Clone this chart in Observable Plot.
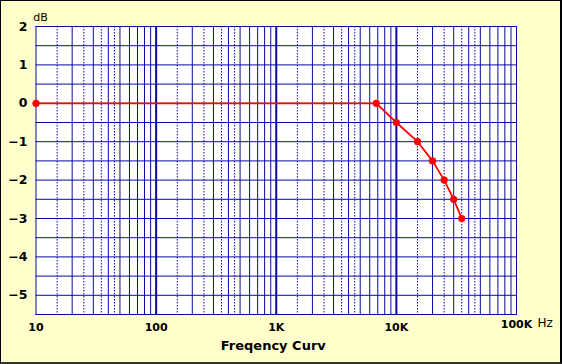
<!DOCTYPE html>
<html>
<head>
<meta charset="utf-8">
<script src="https://cdn.jsdelivr.net/npm/d3@7"></script>
<script src="https://cdn.jsdelivr.net/npm/@observablehq/plot@0.6"></script>
<style>
  html, body { margin: 0; padding: 0; background: #ffffcc; }
  #wrap { position: relative; width: 562px; height: 364px; overflow: hidden; }
  #wrap svg { display: block; }
  #border { position: absolute; left: 0; top: 0; width: 562px; height: 364px; box-sizing: border-box;
            border-style: solid; border-width: 1px 2px 2px 1px; border-color: #000 #000 #333 #000; pointer-events: none; }
</style>
</head>
<body>
<div id="wrap"><div id="border"></div></div>
<script>
// ---- data ----
const freqHz = [10, 6800, 10000, 15000, 20000, 25000, 30000, 35000];
const gainDb = [0, 0, -0.5, -1, -1.5, -2, -2.5, -3];

// ---- axes / grid definitions ----
const decades = [10, 100, 1000, 10000];
const innerDecades = [100, 1000, 10000];
const solidMultipliers = [2, 3, 4, 5, 6, 7, 8, 9];
const dottedMultipliers = [1.5, 2.5, 3.5, 4.5];
const yGridValues = [2, 1.5, 1, 0.5, 0, -0.5, -1, -1.5, -2, -2.5, -3, -3.5, -4, -4.5, -5, -5.5];
const yTickValues = [2, 1, 0, -1, -2, -3, -4, -5];
const yTickLabels = ["2", "1", "0", "\u22121", "\u22122", "\u22123", "\u22124", "\u22125"];
const xTickValues = [10, 100, 1000, 10000];
const xTickLabels = ["10", "100", "1K", "10K"];
const xEndTickValue = [100000];
const xEndTickLabel = ["100K"];
const xUnit = "Hz";
const yUnit = "dB";
const title = "Freqency Curv";

const data = freqHz.map((f, i) => ({f, g: gainDb[i]}));
const solidGrid = decades.flatMap(d => solidMultipliers.map(m => d * m));
const dottedGrid = decades.flatMap(d => dottedMultipliers.map(m => d * m));

const blue = "#0a0aa0";
const red = "#ff0000";
const font = "DejaVu Sans";

const chart = Plot.plot({
  width: 562,
  height: 364,
  marginLeft: 35.5,
  marginRight: 46,
  marginTop: 26,
  marginBottom: 50,
  style: {background: "#ffffcc", fontFamily: font, color: "black", overflow: "visible"},
  x: {type: "log", domain: [10, 100000], axis: null},
  y: {domain: [-5.5, 2], axis: null},
  marks: [
    Plot.frame({fill: "white", stroke: null}),
    Plot.ruleY(yGridValues, {stroke: blue, strokeWidth: 1}),
    Plot.ruleX(solidGrid, {stroke: blue, strokeWidth: 1}),
    Plot.ruleX(dottedGrid, {stroke: blue, strokeWidth: 1, strokeDasharray: "1.5,1.5"}),
    Plot.ruleX(innerDecades, {stroke: blue, strokeWidth: 2}),
    Plot.frame({stroke: blue, strokeWidth: 1}),
    Plot.line(data, {x: "f", y: "g", stroke: red, strokeWidth: 1.8}),
    Plot.dot(data, {x: "f", y: "g", fill: red, stroke: null, r: 3.6}),
    // y tick labels
    Plot.text(yTickValues, {x: 10, y: d => d, text: (d, i) => yTickLabels[i], textAnchor: "end",
      dx: -8.5, lineAnchor: "middle", fontSize: 12.5, fontWeight: "bold", fill: "black"}),
    // x tick labels
    Plot.text(xTickValues, {x: d => d, y: -5.5, text: (d, i) => xTickLabels[i], textAnchor: "middle",
      lineAnchor: "top", dy: 9, fontSize: 11, fontWeight: "bold", fill: "black"}),
    Plot.text(xEndTickValue, {x: d => d, y: -5.5, text: (d, i) => xEndTickLabel[i], textAnchor: "middle",
      lineAnchor: "top", dy: 6, fontSize: 11, fontWeight: "bold", fill: "black"}),
    Plot.text([xUnit], {x: 100000, y: -5.5, text: d => d, textAnchor: "start",
      lineAnchor: "top", dx: 21, dy: 3.5, fontSize: 12, fontWeight: "normal", fill: "black"}),
    // unit label
    Plot.text([yUnit], {x: 10, y: 2, text: d => d, textAnchor: "middle", lineAnchor: "bottom",
      dx: 4.5, dy: -6, fontSize: 11, fill: "black"}),
    // caption
    Plot.text([title], {frameAnchor: "bottom", text: d => d, textAnchor: "middle", lineAnchor: "bottom",
      dx: -3, dy: 35, fontSize: 13, fontWeight: "bold", fill: "black"})
  ]
});
document.getElementById("wrap").insertBefore(chart, document.getElementById("border"));
</script>
</body>
</html>
